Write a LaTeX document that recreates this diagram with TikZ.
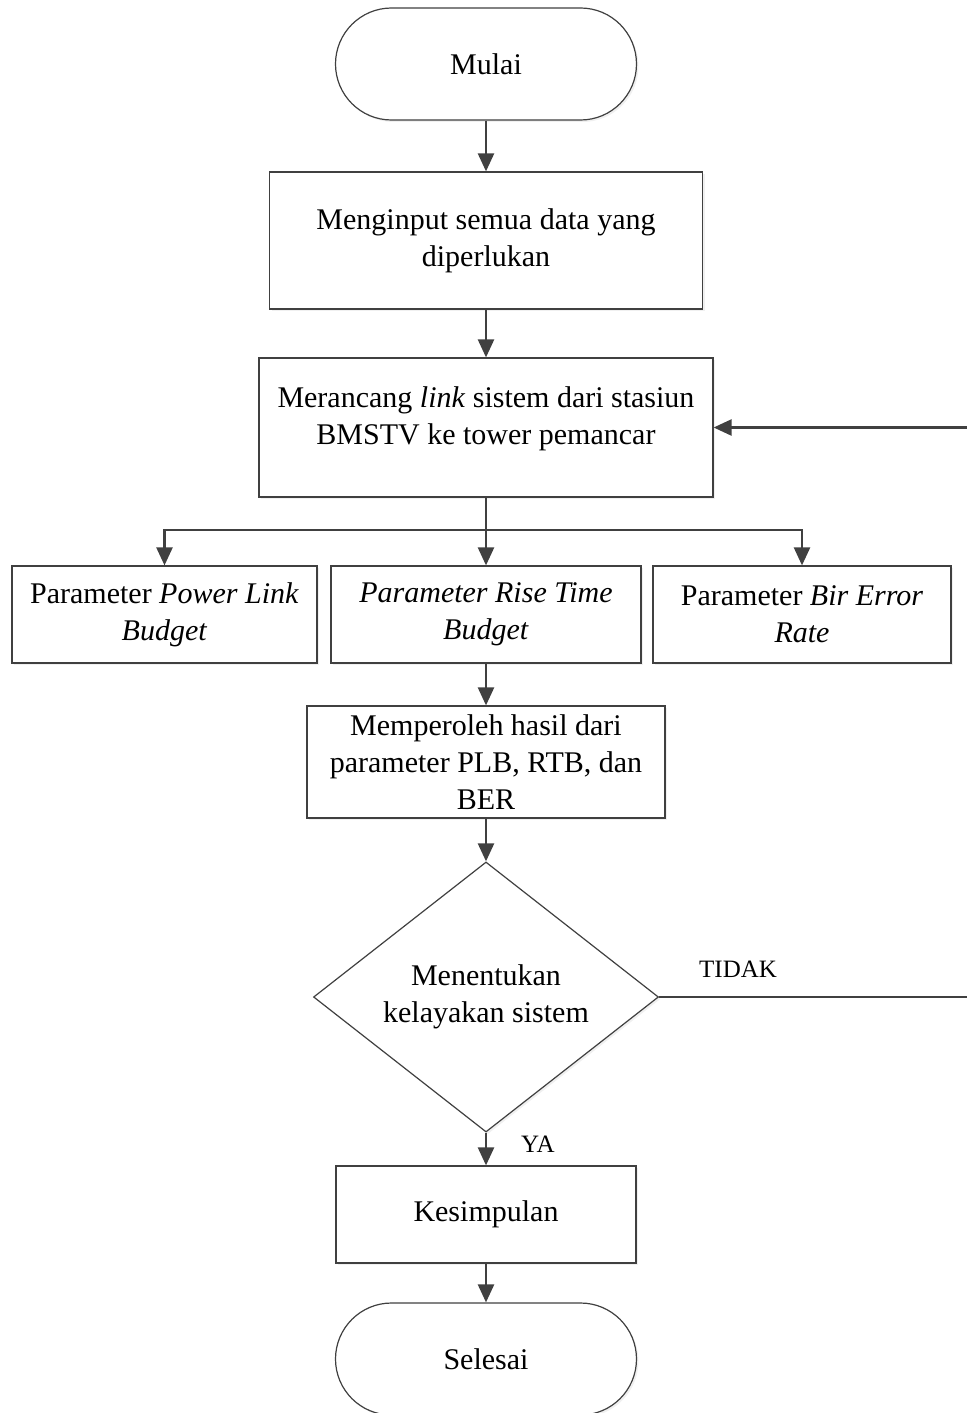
\documentclass[tikz,border=0pt]{standalone}
\usepackage{fontspec}
\setmainfont{Liberation Serif}
\usetikzlibrary{arrows.meta,shapes.geometric,shadows}

\begin{document}
\begin{tikzpicture}[x=0.5pt, y=-0.5pt,
  every node/.style={font=\fontsize{15}{18.5}\selectfont, align=center, inner sep=0pt},
  box/.style={draw=black!75, fill=white, line width=0.6pt,
    drop shadow={shadow xshift=1pt, shadow yshift=-1pt, opacity=0.12}},
  terminal/.style={box, rounded corners=28pt, minimum width=150.5pt, minimum height=56pt},
  process/.style={box, rectangle},
  decision/.style={box, diamond, minimum width=172.5pt, minimum height=131pt},
  tag/.style={font=\fontsize{12.5}{15}\selectfont},
  link/.style={draw=black!75, line width=1.2pt},
  arr/.style={link, -{Triangle[length=9pt, width=8pt]}}]
  \useasboundingbox (0,0) rectangle (967,1413);

  \node[terminal] (start) at (486,64) {Mulai};
  \node[process, minimum width=216.5pt, minimum height=68.5pt] (input) at (486,240.5)
    {Menginput semua data yang\\diperlukan};
  \node[process, minimum width=227pt, minimum height=69.5pt] (design) at (486,427.5)
    {Merancang \textit{link} sistem dari stasiun\\BMSTV ke tower pemancar\\[-6.5pt]};
  \node[process, minimum width=152.5pt, minimum height=48.5pt] (plb) at (164.5,614.5)
    {Parameter \textit{Power Link}\\\textit{Budget}};
  \node[process, minimum width=155pt, minimum height=48.5pt] (rtb) at (486,614.5)
    {\textit{Parameter Rise Time}\\\textit{Budget}};
  \node[process, minimum width=149pt, minimum height=48.5pt] (ber) at (802,614.5)
    {Parameter \textit{Bir Error}\\\textit{Rate}};
  \node[process, minimum width=179pt, minimum height=56pt] (result) at (486,762)
    {Memperoleh hasil dari\\parameter PLB, RTB, dan\\BER};
  \node[decision] (decide) at (486,997) {Menentukan\\kelayakan sistem};
  \node[process, minimum width=150pt, minimum height=48.5pt] (conclude) at (486,1214.5)
    {Kesimpulan};
  \node[terminal] (finish) at (486,1359) {Selesai};

  \coordinate (split) at (486,530);
  \coordinate (back) at (975,997);

  \draw[arr] (start) -- (input);
  \draw[arr] (input) -- (design);
  \draw[arr] (design) -- (rtb);
  \draw[arr] (split) -| (plb);
  \draw[arr] (split) -| (ber);
  \draw[arr] (rtb) -- (result);
  \draw[arr] (result) -- (decide);
  \draw[arr] (decide) -- node[tag, pos=0.35, right=17pt] {YA} (conclude);
  \draw[arr] (conclude) -- (finish);
  \draw[arr] (decide.east) -- node[tag, pos=0.25, above=9pt] {TIDAK} (back) |- (design.east);
\end{tikzpicture}
\end{document}
